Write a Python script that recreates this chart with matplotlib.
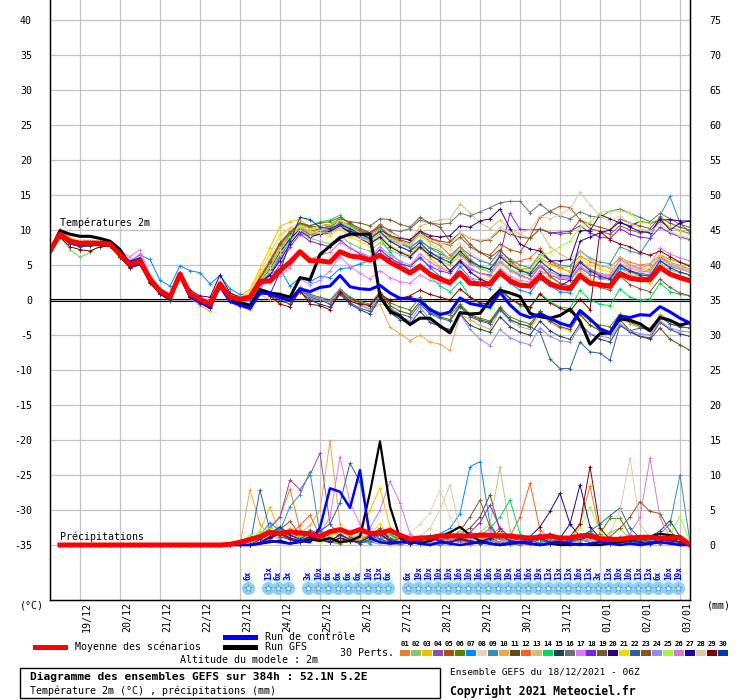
import matplotlib
matplotlib.use("Agg")
import matplotlib.pyplot as plt
from matplotlib.lines import Line2D
from matplotlib.patches import Rectangle

plt.rcParams['font.family'] = ['DejaVu Sans Mono', 'DejaVu Sans']

# time axis: one point every 6h from 18/12 06Z (384h)
hours = list(range(0, 385, 6))
day_hours = [18, 42, 66, 90, 114, 138, 162, 186, 210, 234, 258, 282, 306, 330, 354, 378]
day_labels = ['19/12', '20/12', '21/12', '22/12', '23/12', '24/12', '25/12', '26/12',
              '27/12', '28/12', '29/12', '30/12', '31/12', '01/01', '02/01', '03/01']

left_ticks = [40, 35, 30, 25, 20, 15, 10, 5, 0, -5, -10, -15, -20, -25, -30, -35]
right_ticks = [75, 70, 65, 60, 55, 50, 45, 40, 35, 30, 25, 20, 15, 10, 5, 0]

pert_names = ['01', '02', '03', '04', '05', '06', '07', '08', '09', '10',
              '11', '12', '13', '14', '15', '16', '17', '18', '19', '20',
              '21', '22', '23', '24', '25', '26', '27', '28', '29', '30']
pert_colors = ['#e8802f', '#88c86a', '#f0c000', '#8850a8', '#b05010', '#5a8000',
               '#0088ff', '#e8d4b0', '#3a8cb8', '#e8a850', '#604c18', '#f86020',
               '#d0c080', '#00d860', '#204058', '#687078', '#e078f8', '#8020f0',
               '#785830', '#300070', '#f0d800', '#2860a0', '#905020', '#9888e8',
               '#a0f840', '#d878d0', '#200098', '#e0c8a8', '#800000', '#0038b0']

# temperature 2m (C)
mean_t = [7.0, 9.4, 8.4, 8.1, 8.1, 8.1, 8.0, 6.5, 5.1, 5.6, 3.0, 1.3, 0.4, 3.7, 0.85, 0.1, -0.6, 2.3, 0.4, 0.1,
          0.4, 2.7, 2.7, 4.2, 5.4, 6.9, 5.6, 5.6, 5.4, 6.9, 6.3, 6.1, 5.7, 6.4, 5.4, 4.65, 3.85, 4.8, 3.7, 3.0,
          2.5, 3.9, 2.4, 2.3, 2.3, 3.9, 2.75, 2.1, 2.0, 3.4, 2.3, 1.8, 1.6, 3.5, 2.4, 2.2, 1.95, 3.8, 3.1, 2.9,
          2.9, 4.65, 3.7, 3.2, 2.75]
ctrl_t = [7.0, 9.5, 8.3, 7.9, 8.0, 8.0, 7.9, 6.6, 5.4, 5.9, 2.8, 1.1, 0.3, 3.6, 0.5, -0.3, -1.0, 2.0, -0.2, -0.7,
          -1.2, 1.0, 0.9, 0.4, -0.1, 1.6, 1.2, 1.8, 2.0, 3.5, 1.9, 1.6, 1.5, 2.1, 1.0, 0.25, 0.2, -0.1, -1.4, -2.1,
          -1.7, 0.3, -0.5, -0.8, -1.0, 1.1, -0.7, -2.0, -2.5, -2.0, -2.6, -3.3, -3.75, -1.5, -2.7, -4.1, -4.7, -2.3,
          -2.5, -2.1, -2.2, -0.95, -1.7, -2.6, -3.3]
gfs_t = [7.0, 9.9, 9.4, 9.1, 9.1, 8.8, 8.4, 7.2, 5.0, 5.6, 2.8, 1.1, 0.2, 3.5, 0.7, 0.0, -0.9, 2.2, 0.2, -0.4,
         -0.8, 1.5, 1.0, 0.8, 0.4, 3.2, 2.9, 6.5, 7.7, 8.9, 9.4, 9.4, 9.4, 0.5, -1.6, -2.3, -3.5, -2.6, -2.6, -3.7,
         -4.7, -1.8, -2.0, -1.9, 0.0, 1.4, 1.0, 0.5, -1.9, -2.4, -2.6, -2.2, -1.3, -3.0, -6.3, -4.8, -4.7, -2.7,
         -2.9, -3.4, -4.4, -2.5, -2.9, -3.6, -3.2]

t01 = [7.0, 9.6, 8.6, 8.3, 8.2, 8.4, 8.1, 6.8, 5.3, 5.9, 3.3, 1.5, 0.5, 3.9, 1.0, 0.2, -0.4, 2.6, 0.6, 0.3,
       0.6, 3.5, 5.8, 8.0, 9.6, 10.2, 9.8, 10.0, 10.5, 11.0, 10.4, 9.8, 9.2, 9.6, 8.4, 7.6, 7.0, 7.8, 6.8, 6.2,
       5.8, 6.9, 5.4, 4.8, 4.5, 6.2, 5.0, 4.4, 4.6, 6.0, 5.2, 4.6, 4.8, 6.3, 5.5, 4.9, 4.6, 6.0, 5.4, 5.0,
       5.2, 6.4, 5.8, 5.4, 5.0]
t02 = [7.0, 9.0, 7.2, 6.1, 6.8, 7.8, 7.9, 6.0, 4.6, 5.2, 2.6, 1.0, 0.2, 3.4, 0.6, 0.0, -0.8, 2.0, 0.2, -0.1,
       0.3, 2.2, 4.5, 6.8, 8.2, 9.6, 8.8, 8.4, 8.0, 9.2, 8.1, 7.4, 7.0, 8.2, 7.2, 6.5, 6.0, 7.4, 6.3, 5.5,
       5.0, 6.4, 5.1, 4.5, 4.0, 5.6, 4.4, 3.8, 3.5, 5.0, 4.0, 3.4, 3.2, 4.8, 3.8, 3.0, 2.8, 4.6, 3.6, 3.1,
       3.4, 5.2, 4.3, 3.9, 3.5]
t03 = [7.0, 9.5, 8.5, 8.2, 8.3, 8.2, 8.0, 6.6, 5.0, 5.5, 2.9, 1.2, 0.5, 3.6, 0.9, 0.3, -0.2, 2.4, 0.8, 0.6,
       1.5, 4.5, 7.5, 10.5, 11.2, 11.5, 10.4, 10.0, 9.8, 10.6, 9.5, 9.0, 8.2, 9.2, 7.8, 7.0, 6.4, 7.6, 6.0, 4.8,
       4.2, 5.8, 4.0, 3.2, 2.8, 4.6, 3.4, 2.6, 2.2, 4.2, 3.2, 2.4, 2.0, 4.4, 3.0, 2.2, 1.8, 4.0, 3.4, 2.8,
       2.5, 4.8, 3.8, 3.0, 2.6]
t04 = [7.0, 9.3, 8.2, 7.9, 8.0, 8.1, 7.9, 6.3, 4.9, 5.4, 2.8, 1.1, 0.2, 3.5, 0.7, -0.1, -0.8, 2.1, 0.1, -0.2,
       0.0, 2.0, 3.5, 6.0, 8.5, 10.2, 9.4, 9.6, 10.0, 10.8, 9.6, 9.0, 8.5, 9.5, 8.8, 8.2, 7.6, 8.4, 7.5, 7.0,
       5.8, 6.6, 5.4, 4.6, 4.0, 5.6, 4.4, 3.6, 3.0, 4.8, 3.6, 3.0, 2.8, 4.6, 3.6, 3.2, 3.0, 5.0, 4.2, 3.8,
       3.6, 5.6, 4.8, 4.4, 4.0]
t05 = [7.0, 9.7, 8.7, 8.4, 8.5, 8.4, 8.2, 6.9, 5.4, 5.8, 3.2, 1.5, 0.6, 3.8, 1.0, 0.3, -0.3, 2.5, 0.6, 0.2,
       0.5, 2.8, 4.8, 7.4, 9.0, 10.4, 9.8, 10.2, 10.6, 11.2, 10.8, 10.2, 9.6, 10.8, 9.8, 9.0, 8.6, 9.8, 8.8, 8.2,
       7.8, 9.0, 7.6, 6.8, 6.4, 8.0, 7.2, 6.8, 9.0, 11.8, 12.7, 13.4, 13.2, 11.5, 10.2, 9.8, 9.4, 10.6, 10.0, 9.6,
       9.8, 11.2, 10.4, 9.9, 9.5]
t06 = [7.0, 9.2, 8.0, 7.7, 7.8, 7.9, 7.8, 6.2, 4.7, 5.2, 2.6, 0.9, 0.1, 3.4, 0.5, -0.3, -1.0, 2.0, 0.0, -0.4,
       -0.6, 1.2, 1.0, 0.6, 0.2, 1.8, 0.8, 0.4, 0.0, 1.6, 0.4, -0.2, -0.6, 1.2, -0.4, -1.0, -1.4, 0.4, -1.2, -1.8,
       -2.2, -0.6, -2.0, -2.6, -3.0, -1.0, -2.4, -3.0, -3.4, -1.6, -2.8, -3.4, -3.6, -1.8, -3.0, -3.6, -3.8, -2.0,
       -3.2, -3.8, -4.0, -2.2, -3.4, -3.8, -4.0]
t07 = [7.0, 9.4, 8.3, 8.0, 8.0, 8.0, 7.9, 6.5, 5.6, 6.4, 5.8, 2.8, 2.0, 4.9, 4.2, 3.9, 2.3, 3.5, 1.6, 0.8,
       0.6, 2.4, 3.8, 4.4, 2.0, 3.2, 2.6, 3.4, 3.2, 4.5, 4.6, 5.2, 5.6, 7.2, 6.0, 5.2, 4.8, 6.2, 4.6, 3.4,
       2.6, 4.8, 3.2, 2.2, 1.6, 3.8, 2.4, 1.4, 1.0, 3.0, 2.0, 1.2, 1.0, 3.6, 2.6, 2.0, 2.4, 4.6, 4.0, 3.8,
       4.4, 6.1, 5.4, 4.9, 4.4]
t08 = [7.0, 9.8, 8.9, 8.6, 8.6, 8.5, 8.3, 7.0, 5.5, 6.0, 3.4, 1.7, 0.8, 4.0, 1.2, 0.5, -0.1, 2.7, 0.8, 0.5,
       0.9, 3.2, 6.0, 8.8, 10.4, 11.0, 10.2, 10.4, 10.0, 11.4, 10.6, 10.0, 9.4, 10.6, 9.6, 9.0, 8.6, 10.2, 9.2, 8.4,
       7.2, 8.2, 6.8, 5.8, 5.2, 6.6, 5.4, 4.6, 4.0, 5.6, 4.4, 3.8, 3.6, 5.4, 4.4, 3.8, 3.4, 5.2, 4.4, 4.0,
       3.8, 5.8, 5.0, 4.6, 4.4]
t09 = [7.0, 9.5, 8.4, 8.1, 8.2, 8.2, 8.1, 6.6, 5.2, 5.7, 3.1, 1.4, 0.4, 3.7, 0.9, 0.1, -0.5, 2.3, 0.4, 0.0,
       0.3, 2.6, 4.2, 6.4, 8.8, 10.6, 9.4, 9.8, 10.2, 11.0, 10.0, 9.4, 8.8, 9.6, 8.6, 8.0, 7.4, 8.6, 7.4, 6.6,
       6.0, 7.6, 6.4, 5.6, 5.2, 7.0, 5.8, 5.0, 4.6, 6.6, 5.6, 5.0, 4.8, 7.0, 6.0, 5.4, 5.2, 7.6, 7.0, 6.6,
       8.8, 12.0, 14.8, 11.0, 9.6]
t10 = [7.0, 10.2, 8.8, 8.2, 8.0, 8.0, 7.8, 6.4, 4.8, 5.4, 3.0, 1.0, 0.0, 3.3, 0.3, -0.8, -1.6, 2.0, -0.3, -1.0,
       -1.4, 0.8, 0.0, -0.4, -0.2, 1.0, 0.2, 0.0, -0.4, 1.2, 0.0, -0.6, -1.5, -0.6, -3.9, -4.8, -5.8, -5.0, -6.0, -6.3,
       -7.2, -2.0, -2.8, -3.6, -4.2, -1.4, -3.0, -3.8, -4.2, -2.0, -3.2, -4.0, -4.4, -2.2, -3.6, -4.2, -4.6, -2.4,
       -3.4, -4.0, -4.4, -2.0, -3.0, -3.4, -3.6]
t11 = [7.0, 9.3, 8.1, 7.8, 7.9, 8.0, 7.9, 6.3, 4.8, 5.3, 2.7, 1.0, 0.2, 3.5, 0.6, -0.2, -0.9, 2.1, 0.1, -0.3,
       -0.5, 1.4, 0.9, 0.4, 0.0, 1.6, 0.6, 0.2, -0.2, 1.4, 0.2, -0.4, -0.8, 1.0, -0.8, -1.6, -2.0, -0.2, -1.8, -2.4,
       -2.8, -0.8, -2.2, -2.8, -3.2, -1.2, -2.8, -3.4, -3.8, -1.6, -3.0, -3.8, -4.2, -2.0, -3.6, -4.4, -4.8, -2.8,
       -4.4, -5.2, -5.6, -4.0, -5.6, -6.4, -7.2]
t12 = [7.0, 9.6, 8.5, 8.2, 8.2, 8.3, 8.1, 6.7, 5.2, 5.7, 3.1, 1.4, 0.5, 3.8, 0.9, 0.2, -0.4, 2.4, 0.5, 0.2,
       0.5, 3.0, 5.2, 7.8, 9.4, 10.8, 10.2, 10.6, 10.8, 11.3, 10.6, 10.0, 9.4, 10.2, 9.0, 8.4, 8.0, 9.4, 8.4, 7.8,
       6.4, 7.6, 5.8, 4.8, 4.4, 6.4, 5.2, 5.6, 6.0, 7.4, 5.6, 4.6, 4.0, 5.6, 4.4, 3.6, 3.2, 5.0, 4.0, 3.4,
       3.0, 4.8, 3.8, 3.2, 2.8]
t13 = [7.0, 9.7, 8.6, 8.3, 8.3, 8.2, 8.0, 6.6, 5.1, 5.6, 3.0, 1.3, 0.4, 3.7, 0.8, 0.1, -0.5, 2.3, 0.4, 0.1,
       0.4, 2.8, 5.0, 7.6, 9.2, 10.4, 9.6, 10.0, 10.2, 10.8, 9.8, 9.2, 8.6, 9.6, 8.4, 8.0, 8.2, 10.6, 11.0, 11.5,
       11.6, 13.7, 12.5, 11.0, 10.2, 11.4, 10.2, 9.4, 8.8, 10.0, 7.6, 6.6, 5.8, 7.0, 5.8, 5.0, 4.6, 6.2, 5.0, 4.4,
       4.2, 6.0, 5.0, 4.4, 4.0]
t14 = [7.0, 9.4, 8.4, 8.1, 8.1, 8.1, 8.0, 6.4, 5.0, 5.5, 2.9, 1.2, 0.3, 3.6, 0.8, 0.0, -0.6, 2.2, 0.3, 0.0,
       0.4, 2.4, 4.4, 7.0, 9.4, 11.0, 10.6, 11.2, 11.4, 12.1, 10.8, 9.6, 8.4, 8.8, 6.8, 5.4, 4.2, 5.2, 3.4, 2.0,
       1.2, 2.6, 0.4, -0.6, -1.2, 1.8, 0.2, -0.8, -1.2, 1.0, -0.2, -1.0, -1.2, 1.4, 0.0, -0.6, -0.8, 1.6, 0.4, 0.0,
       0.2, 2.4, 1.2, 0.8, 0.6]
t15 = [7.0, 9.2, 8.0, 7.6, 7.7, 7.8, 7.7, 6.1, 4.6, 5.1, 2.5, 0.8, -0.1, 3.2, 0.4, -0.5, -1.2, 1.8, -0.2, -0.6,
       -1.0, 1.4, 0.6, 0.0, -0.6, 1.2, 0.0, -0.6, -1.0, 0.8, -0.6, -1.4, -2.0, 0.2, -1.8, -2.8, -3.4, -1.6, -3.2, -3.8,
       -4.2, -2.0, -3.6, -4.2, -4.6, -2.4, -3.8, -4.6, -5.0, -3.0, -4.4, -5.2, -5.6, -3.4, -4.8, -5.6, -6.0, -3.6,
       -4.6, -5.2, -5.4, -3.2, -4.2, -4.8, -5.2]
t16 = [7.0, 9.5, 8.5, 8.2, 8.2, 8.1, 7.9, 6.5, 5.1, 5.6, 3.0, 1.3, 0.3, 3.6, 0.8, 0.0, -0.7, 2.2, 0.3, 0.0,
       0.2, 2.2, 3.8, 6.2, 8.6, 10.0, 9.2, 9.6, 10.0, 10.8, 10.2, 9.8, 9.6, 10.6, 10.0, 9.8, 10.2, 11.4, 11.0, 10.8,
       11.0, 12.4, 12.0, 12.6, 13.2, 13.9, 14.1, 14.1, 12.5, 13.7, 12.6, 12.0, 11.6, 12.6, 12.0, 11.8, 12.7, 13.0,
       12.4, 11.8, 11.2, 12.4, 11.6, 10.8, 10.4]
t17 = [7.0, 9.4, 8.3, 8.0, 8.1, 8.2, 8.1, 6.9, 6.2, 7.2, 3.4, 1.2, 0.2, 3.9, 0.6, -0.1, -0.7, 2.4, 0.2, -0.2,
       -0.2, 1.6, 1.2, 0.8, 0.6, 3.0, 2.2, 2.8, 4.2, 6.2, 4.8, 3.8, 3.0, 4.2, 3.2, 2.6, 2.4, 3.6, 2.8, 2.4,
       2.2, 3.8, 3.2, 2.8, 2.6, 4.4, 3.4, 2.8, 2.6, 4.2, 3.6, 3.2, 3.0, 4.8, 4.0, 3.6, 3.4, 5.2, 4.6, 4.2,
       4.0, 6.0, 5.2, 4.6, 4.2]
t18 = [7.0, 9.3, 8.2, 7.9, 8.0, 8.0, 7.8, 6.4, 5.0, 5.5, 2.9, 1.2, 0.3, 3.6, 0.7, 0.0, -0.6, 2.2, 0.3, -0.1,
       0.1, 2.0, 3.0, 5.0, 7.6, 9.4, 8.4, 8.0, 7.6, 8.6, 7.4, 6.6, 6.0, 7.2, 6.0, 5.2, 4.8, 6.0, 4.8, 4.2,
       3.8, 5.4, 4.4, 3.8, 3.6, 6.4, 12.4, 10.1, 10.0, 10.1, 9.6, 9.7, 9.8, 10.6, 9.6, 9.0, 8.8, 10.2, 9.4, 9.0,
       8.8, 10.4, 9.6, 9.0, 8.6]
t19 = [7.0, 9.6, 8.5, 8.2, 8.3, 8.3, 8.1, 6.7, 5.2, 5.7, 3.1, 1.4, 0.5, 3.8, 0.9, 0.2, -0.4, 2.4, 0.5, 0.2,
       0.6, 3.2, 5.6, 8.2, 9.8, 11.0, 10.4, 10.6, 10.8, 11.6, 11.2, 11.0, 10.6, 11.6, 11.5, 10.8, 10.4, 11.8, 11.0, 10.4,
       8.4, 9.6, 8.0, 6.8, 6.0, 7.2, 5.6, 4.4, 3.6, 5.0, 3.4, 2.4, 2.0, 3.8, 2.6, 1.8, 1.4, 3.4, 2.2, 1.6,
       1.2, 3.0, 1.8, 1.0, 0.6]
t20 = [7.0, 9.5, 8.4, 8.1, 8.1, 8.2, 8.0, 6.6, 5.1, 5.7, 3.2, 1.6, 0.8, 3.7, 1.4, 0.6, 0.4, 3.6, 1.0, 0.4,
       0.3, 2.6, 4.4, 6.8, 8.8, 10.0, 9.2, 9.4, 9.6, 10.4, 9.8, 9.4, 9.0, 10.0, 9.2, 8.8, 8.6, 9.8, 9.2, 9.0,
       9.2, 10.6, 10.4, 11.3, 11.6, 13.0, 10.2, 8.0, 7.3, 7.0, 5.6, 5.6, 5.8, 9.9, 9.9, 12.2, 11.6, 11.0, 10.6, 11.2,
       11.0, 11.4, 11.5, 11.3, 11.3]
t21 = [7.0, 9.4, 8.4, 8.2, 8.2, 8.1, 8.0, 6.6, 5.1, 5.6, 3.0, 1.3, 0.4, 3.6, 0.9, 0.2, -0.4, 2.4, 0.6, 0.4,
       1.2, 4.0, 6.6, 9.4, 10.2, 10.6, 9.8, 9.6, 9.2, 10.2, 9.0, 8.4, 7.6, 8.8, 7.6, 7.0, 6.4, 7.8, 6.6, 5.8,
       5.2, 6.8, 5.6, 4.8, 4.4, 6.2, 5.2, 4.6, 4.2, 5.8, 5.0, 4.4, 4.2, 6.0, 5.0, 4.4, 4.0, 5.6, 4.8, 4.4,
       4.6, 6.4, 5.4, 4.8, 4.2]
t22 = [7.0, 9.2, 8.0, 7.7, 7.8, 7.9, 7.8, 6.2, 4.7, 5.2, 2.6, 0.9, 0.0, 3.3, 0.5, -0.3, -1.0, 1.9, 0.0, -0.4,
       -0.8, 1.2, 0.6, 0.2, -0.2, 1.4, 0.4, 0.0, -0.6, 1.0, -0.4, -1.2, -1.6, 0.4, -1.2, -2.0, -2.4, -0.6, -2.0, -2.6,
       -3.0, -1.0, -2.4, -3.0, -3.4, -1.4, -2.8, -3.4, -3.8, -4.6, -8.4, -9.8, -9.8, -6.0, -7.4, -7.6, -8.6, -3.6,
       -4.4, -4.0, -4.2, -2.4, -3.4, -3.8, -4.0]
t23 = [7.0, 9.6, 8.6, 8.3, 8.3, 8.3, 8.1, 6.8, 5.3, 5.8, 3.2, 1.5, 0.6, 3.8, 1.0, 0.3, -0.3, 2.5, 0.6, 0.3,
       0.6, 3.0, 5.4, 8.0, 9.6, 11.0, 10.6, 11.0, 11.2, 11.8, 11.0, 10.2, 9.6, 10.4, 9.2, 8.6, 8.2, 9.6, 8.8, 8.4,
       8.2, 9.6, 8.8, 8.4, 8.6, 10.0, 9.4, 9.0, 8.8, 10.2, 9.6, 9.4, 9.6, 11.4, 10.8, 10.4, 10.0, 11.6, 11.0, 10.6,
       10.2, 11.8, 11.0, 10.4, 10.0]
t24 = [7.0, 9.3, 8.2, 7.9, 8.0, 8.0, 7.9, 6.4, 4.9, 5.4, 2.8, 1.1, 0.2, 3.5, 0.6, -0.2, -0.9, 2.0, 0.1, -0.3,
       -0.6, 1.4, 0.8, 0.4, 0.0, 1.8, 0.6, 0.2, -0.2, 1.6, 0.0, -0.8, -1.2, 0.6, -1.4, -2.4, -3.0, -1.0, -2.8, -3.6,
       -4.6, -2.0, -4.2, -5.6, -6.5, -4.2, -5.4, -6.0, -6.4, -4.0, -5.2, -5.8, -6.0, -3.8, -4.8, -5.2, -5.4, -3.4,
       -4.4, -4.8, -5.0, -3.0, -4.0, -4.4, -4.6]
t25 = [7.0, 9.4, 8.3, 8.0, 8.1, 8.1, 7.9, 6.5, 5.0, 5.5, 2.9, 1.2, 0.3, 3.6, 0.8, 0.0, -0.6, 2.2, 0.4, 0.1,
       0.5, 2.8, 4.6, 7.2, 9.0, 10.6, 10.2, 10.6, 10.8, 11.4, 10.4, 9.6, 9.0, 10.0, 8.8, 8.2, 7.8, 9.2, 8.0, 7.2,
       5.8, 7.2, 5.6, 4.6, 4.0, 5.6, 4.4, 3.8, 4.2, 6.4, 6.8, 7.6, 8.4, 10.4, 11.1, 12.5, 12.7, 12.7, 12.5, 11.1,
       11.0, 11.6, 10.4, 9.8, 9.4]
t26 = [7.0, 9.5, 8.4, 8.1, 8.1, 8.1, 8.0, 6.6, 5.5, 6.6, 3.2, 1.3, 0.4, 3.7, 0.8, 0.0, -0.6, 2.3, 0.3, 0.0,
       0.2, 2.0, 2.6, 3.4, 4.6, 6.8, 5.8, 6.4, 6.8, 8.2, 7.4, 6.8, 6.2, 7.6, 6.4, 5.6, 5.0, 6.6, 5.4, 4.6,
       4.0, 5.8, 4.6, 3.8, 3.4, 5.4, 4.2, 3.4, 3.0, 5.0, 4.0, 3.4, 3.2, 5.4, 4.4, 3.8, 3.6, 5.8, 5.0, 4.6,
       5.0, 7.4, 6.6, 6.0, 5.6]
t27 = [7.0, 9.4, 8.3, 8.0, 8.0, 8.0, 7.9, 6.5, 5.0, 5.6, 3.0, 1.3, 0.4, 3.6, 0.8, 0.0, -0.7, 2.2, 0.3, 0.0,
       0.3, 2.4, 3.6, 5.6, 8.0, 9.8, 9.0, 9.4, 9.8, 10.6, 9.6, 8.8, 8.0, 9.0, 7.6, 6.8, 6.2, 7.6, 6.4, 5.6,
       4.2, 5.6, 4.0, 3.0, 2.4, 4.2, 3.0, 2.2, 1.8, 3.8, 2.6, 2.0, 2.8, 8.4, 9.0, 9.6, 10.0, 11.2, 10.4, 9.8,
       9.6, 11.6, 10.0, 11.0, 11.3]
t28 = [7.0, 9.6, 8.5, 8.2, 8.2, 8.2, 8.0, 6.6, 5.1, 5.6, 3.0, 1.3, 0.4, 3.7, 0.9, 0.1, -0.5, 2.3, 0.4, 0.1,
       0.4, 2.6, 4.2, 6.6, 8.4, 10.0, 9.2, 9.6, 9.6, 10.4, 9.2, 8.8, 8.4, 9.6, 8.6, 8.2, 8.0, 9.4, 8.6, 8.2,
       8.0, 9.6, 8.8, 8.6, 8.8, 10.4, 9.6, 9.6, 10.0, 12.0, 11.6, 12.2, 13.0, 15.4, 13.6, 12.0, 11.2, 12.0, 11.0, 10.2,
       9.8, 10.8, 9.8, 9.2, 8.8]
t29 = [7.0, 9.0, 7.6, 7.2, 7.0, 7.6, 7.7, 6.2, 4.6, 5.0, 2.4, 0.9, 0.1, 3.3, 0.4, -0.4, -1.1, 1.9, -0.1, -0.5,
       -0.8, 1.6, 0.6, -0.6, -1.0, 1.4, -0.6, -0.8, -1.4, 1.2, -0.2, -0.6, -0.8, 0.8, 0.0, 0.2, 0.6, 1.4, 0.8, 0.4,
       0.0, 1.6, 0.4, -0.4, -0.6, 1.4, 0.2, -0.6, -1.0, 0.8, -0.4, -1.2, -1.6, 0.2, -1.4, 9.8, 8.6, 8.0, 7.6, 6.8,
       6.4, 7.0, 6.2, 5.4, 4.8]
t30 = [7.0, 9.3, 8.2, 7.9, 7.9, 8.0, 7.8, 6.3, 4.8, 5.3, 2.7, 1.0, 0.1, 3.4, 0.5, -0.4, -1.1, 1.9, -0.2, -0.8,
       -1.2, 1.0, 0.8, 4.0, 8.4, 11.8, 11.5, 10.4, 10.2, 10.8, 10.2, 9.4, 8.8, 9.8, 8.4, 7.6, 7.0, 8.2, 6.8, 6.0,
       5.4, 7.0, 5.6, 4.8, 4.4, 6.2, 5.0, 4.2, 3.8, 5.6, 4.4, 3.6, 3.4, 5.4, 4.2, 3.4, 3.0, 5.0, 4.2, 3.6,
       3.4, 5.6, 4.6, 4.0, 3.6]

# precipitation (mm): first value at +6h, dry until 23/12
precip_dry = [0.0, 0.0, 0.0, 0.0, 0.0, 0.0, 0.0, 0.0, 0.0, 0.0, 0.0, 0.0, 0.0, 0.0, 0.0, 0.0, 0.0, 0.0, 0.0]
mean_p_start = [0.0, 0.0, 0.0, 0.0, 0.0, 0.0, 0.0, 0.0, 0.0, 0.0, 0.0, 0.0, 0.0, 0.0, 0.0, 0.0, 0.0, 0.1, 0.4]
mean_p = [0.8, 1.2, 1.8, 1.6, 1.9, 1.7, 1.6, 1.2, 1.9, 2.2, 1.7, 2.2, 1.65, 1.7, 2.1, 1.4, 0.85, 1.0, 1.05, 1.3,
          1.3, 1.3, 1.3, 1.4, 1.4, 1.3, 1.3, 1.1, 1.0, 1.1, 1.3, 1.0, 1.0, 1.3, 1.4, 0.9, 0.8, 0.8, 1.0, 1.1,
          1.1, 1.0, 1.0, 1.1, 0.0]
ctrl_p = [0.0, 0.2, 0.6, 0.4, 0.2, 0.6, 0.4, 2.5, 8.1, 7.6, 5.3, 10.7, 1.0, 0.4, 0.2, 0.4, 0.6, 0.2, 0.0, 0.4,
          0.2, 0.0, 0.2, 0.4, 0.2, 0.0, 0.2, 0.4, 0.2, 0.0, 0.2, 0.4, 0.2, 0.0, 0.2, 0.4, 0.2, 0.0, 0.2, 0.0,
          0.2, 0.4, 0.2, 0.0, 0.0]
gfs_p = [0.0, 0.2, 0.4, 0.6, 0.2, 0.4, 0.8, 0.6, 1.0, 0.4, 0.6, 1.2, 7.5, 14.8, 5.5, 1.0, 0.4, 0.2, 0.6, 1.2,
         1.8, 2.6, 1.4, 0.6, 0.2, 0.0, 0.2, 0.4, 0.2, 0.0, 0.2, 0.0, 0.0, 0.2, 0.0, 0.0, 0.2, 0.4, 0.6, 1.0,
         1.2, 1.6, 1.4, 1.2, 0.2]

p01 = [0.4, 1.2, 2.6, 4.0, 8.0, 2.2, 1.0, 0.6, 1.8, 1.2, 0.4, 0.8, 1.0, 0.6, 0.2, 0.0, 0.4, 1.2, 0.8, 0.2,
       0.6, 1.0, 0.4, 0.2, 0.8, 1.4, 0.6, 0.2, 0.0, 0.4, 0.8, 0.2, 0.6, 3.0, 8.4, 1.6, 0.4, 0.2, 0.6, 1.0,
       0.4, 0.2, 0.6, 0.4, 0.0]
p02 = [0.0, 0.6, 1.4, 2.0, 1.2, 0.8, 1.6, 2.4, 1.0, 0.6, 0.4, 1.2, 0.8, 0.4, 0.2, 1.0, 0.6, 0.2, 0.0, 0.8,
       1.6, 0.6, 0.2, 0.4, 0.8, 0.4, 0.0, 0.2, 0.6, 1.2, 0.4, 0.2, 0.0, 0.6, 1.0, 0.4, 1.8, 2.4, 0.8, 0.4,
       0.2, 0.6, 0.4, 0.8, 0.0]
p03 = [0.0, 2.0, 5.4, 1.6, 0.8, 1.2, 0.6, 1.0, 0.4, 1.4, 0.8, 1.6, 5.0, 8.1, 2.6, 0.6, 0.2, 0.8, 0.4, 0.2,
       1.0, 0.6, 0.2, 0.4, 1.2, 0.8, 0.4, 0.2, 0.6, 1.4, 0.8, 0.4, 0.2, 0.6, 1.6, 0.8, 0.4, 0.6, 1.2, 0.6,
       0.2, 0.4, 1.0, 0.4, 0.0]
p04 = [0.2, 1.0, 2.4, 4.0, 9.3, 7.9, 10.0, 13.1, 3.0, 1.2, 0.6, 1.4, 0.8, 0.4, 1.6, 0.8, 0.2, 0.6, 1.0, 0.4,
       0.8, 1.2, 0.6, 0.2, 0.4, 1.0, 0.6, 0.2, 0.8, 1.6, 0.6, 0.2, 0.4, 0.8, 1.2, 0.4, 0.2, 0.6, 1.0, 0.8,
       0.4, 0.2, 0.6, 0.4, 0.0]
p05 = [0.0, 0.8, 1.6, 2.2, 3.4, 1.4, 0.8, 2.0, 1.2, 0.6, 1.0, 0.4, 0.8, 1.4, 0.6, 0.2, 0.8, 1.2, 0.6, 0.4,
       1.6, 0.8, 0.4, 0.2, 1.0, 2.0, 0.8, 0.4, 0.6, 1.2, 0.6, 0.2, 0.4, 0.8, 1.0, 0.4, 0.6, 1.2, 0.8, 0.4,
       0.2, 0.8, 0.6, 0.4, 0.0]
p06 = [0.0, 0.4, 1.0, 1.8, 0.8, 0.4, 1.2, 0.8, 0.4, 0.2, 0.6, 1.0, 0.4, 0.2, 0.8, 0.4, 0.2, 0.6, 0.2, 0.0,
       0.4, 0.8, 0.2, 0.6, 1.0, 0.4, 0.2, 0.0, 0.4, 0.8, 0.2, 0.4, 0.6, 1.2, 0.8, 1.6, 3.8, 3.8, 1.4, 0.6,
       0.2, 0.4, 0.8, 0.4, 0.0]
p07 = [0.0, 1.4, 3.2, 2.0, 1.0, 0.6, 1.8, 1.2, 0.6, 0.4, 1.0, 0.8, 0.4, 1.4, 0.8, 0.2, 0.6, 1.2, 0.8, 1.6,
       2.4, 4.5, 11.2, 11.9, 3.0, 0.8, 0.4, 0.2, 0.6, 1.0, 0.4, 0.2, 0.6, 0.8, 0.4, 0.2, 0.6, 1.0, 0.4, 0.2,
       0.6, 0.4, 0.8, 0.2, 0.0]
p08 = [0.0, 0.6, 1.6, 2.4, 1.4, 0.8, 1.0, 2.2, 1.4, 0.6, 0.4, 1.2, 0.6, 0.2, 1.0, 0.8, 1.6, 3.0, 4.6, 7.9,
       4.0, 1.2, 0.6, 0.4, 0.8, 1.4, 0.6, 0.2, 0.4, 1.0, 0.6, 0.2, 0.4, 0.8, 1.2, 0.4, 0.2, 0.6, 1.0, 0.4,
       0.2, 0.6, 0.8, 0.4, 0.0]
p09 = [0.0, 0.8, 1.4, 2.0, 5.5, 7.2, 10.5, 1.5, 0.8, 0.4, 1.2, 0.6, 0.2, 0.8, 1.4, 0.6, 0.2, 0.4, 1.0, 0.6,
       0.2, 0.8, 0.4, 0.2, 0.6, 1.2, 0.4, 0.2, 0.6, 1.0, 0.4, 0.2, 0.6, 1.4, 0.8, 0.4, 0.2, 0.6, 1.0, 0.4,
       0.8, 1.6, 3.0, 10.0, 0.4]
p10 = [7.9, 3.0, 1.2, 0.8, 2.4, 1.6, 2.8, 5.0, 14.8, 3.0, 1.0, 0.6, 1.4, 0.8, 0.4, 0.2, 0.6, 1.0, 0.4, 0.2,
       0.8, 1.2, 0.6, 0.2, 0.4, 1.0, 0.6, 0.2, 0.4, 0.8, 0.2, 0.6, 1.2, 0.8, 0.4, 0.2, 0.6, 1.0, 0.4, 0.2,
       0.6, 0.4, 0.2, 0.6, 0.0]
p11 = [0.0, 0.4, 1.2, 2.0, 1.0, 0.6, 1.4, 0.8, 0.4, 1.6, 0.8, 0.4, 1.2, 2.2, 0.8, 0.4, 0.2, 0.8, 1.4, 0.6,
       1.0, 1.6, 2.4, 4.0, 7.2, 2.0, 0.8, 0.4, 0.6, 1.2, 0.4, 0.2, 0.8, 1.0, 0.4, 0.6, 1.2, 0.8, 0.4, 0.2,
       0.6, 1.0, 0.4, 0.2, 0.0]
p12 = [0.0, 0.8, 1.6, 2.2, 1.4, 2.8, 4.3, 1.2, 0.6, 0.4, 1.0, 0.6, 1.4, 0.8, 0.4, 0.2, 0.6, 1.0, 0.8, 0.4,
       1.2, 0.6, 0.2, 0.8, 1.4, 2.4, 1.2, 4.0, 8.8, 2.2, 0.8, 0.4, 0.6, 1.0, 0.4, 0.2, 0.6, 0.8, 0.4, 0.2,
       0.6, 0.4, 0.8, 0.2, 0.0]
p13 = [0.2, 1.0, 1.8, 1.2, 0.6, 1.4, 0.8, 0.4, 1.2, 0.6, 0.4, 1.0, 1.6, 0.8, 0.4, 0.2, 0.8, 1.2, 0.6, 1.4,
       2.0, 1.0, 0.6, 1.8, 3.0, 11.1, 2.0, 0.8, 0.4, 1.0, 0.6, 0.2, 0.4, 0.8, 1.2, 0.6, 0.2, 0.4, 1.0, 0.6,
       0.4, 0.8, 0.4, 0.2, 0.0]
p14 = [0.0, 0.6, 1.8, 2.6, 1.4, 0.8, 2.0, 1.2, 0.6, 0.4, 1.2, 0.8, 0.4, 1.0, 1.6, 0.6, 0.2, 0.8, 1.4, 0.6,
       0.4, 1.0, 0.6, 1.2, 2.4, 4.0, 6.4, 1.6, 0.6, 0.4, 1.0, 0.6, 0.2, 0.8, 2.0, 0.8, 0.4, 0.6, 1.2, 0.4,
       0.2, 0.6, 0.8, 0.4, 0.0]
p15 = [0.0, 0.4, 1.0, 1.6, 0.8, 0.4, 1.2, 0.6, 0.4, 1.0, 0.6, 0.2, 0.8, 1.4, 0.6, 0.2, 0.4, 0.8, 0.4, 0.2,
       0.6, 1.0, 0.4, 0.2, 0.6, 1.2, 0.6, 0.2, 0.4, 0.8, 0.2, 0.4, 0.6, 1.0, 0.4, 0.2, 0.6, 0.8, 0.4, 0.6,
       1.2, 2.0, 3.5, 1.2, 0.0]
p16 = [0.0, 0.6, 1.4, 2.4, 1.8, 1.0, 2.2, 1.4, 0.8, 0.4, 1.2, 0.8, 0.6, 1.6, 0.8, 0.4, 0.2, 0.6, 1.2, 0.8,
       0.4, 1.0, 0.6, 0.4, 0.8, 1.4, 0.6, 0.2, 0.4, 1.0, 0.4, 0.2, 0.6, 0.8, 1.2, 0.6, 0.4, 0.8, 0.4, 0.2,
       0.6, 1.0, 0.6, 0.2, 0.0]
p17 = [0.0, 0.8, 1.4, 1.0, 2.0, 1.2, 0.8, 1.6, 4.0, 12.6, 6.0, 3.0, 1.2, 0.6, 0.4, 1.0, 0.6, 0.2, 0.8, 1.2,
       0.6, 0.4, 1.0, 1.6, 2.2, 1.0, 0.4, 0.6, 1.2, 0.8, 0.4, 0.2, 0.6, 1.0, 0.4, 0.2, 0.6, 1.2, 0.8, 0.4,
       0.6, 1.0, 0.4, 0.2, 0.0]
p18 = [0.0, 0.6, 1.2, 2.0, 1.4, 0.8, 1.6, 1.0, 0.6, 1.2, 0.8, 0.4, 1.0, 1.8, 0.8, 0.4, 0.2, 0.6, 1.0, 1.4,
       0.8, 1.2, 1.8, 3.2, 5.7, 2.4, 1.0, 0.6, 0.4, 0.8, 0.4, 0.2, 0.6, 1.0, 0.6, 0.2, 0.4, 0.8, 1.2, 0.6,
       0.4, 0.8, 0.4, 0.2, 0.0]
p19 = [0.0, 0.6, 1.4, 2.2, 1.2, 0.6, 1.8, 1.0, 0.6, 0.4, 1.2, 0.8, 1.4, 2.4, 1.0, 0.6, 0.4, 0.8, 1.2, 0.6,
       1.0, 2.0, 4.0, 6.4, 2.6, 1.0, 0.6, 0.4, 0.8, 1.2, 0.6, 0.2, 0.4, 0.8, 1.0, 0.4, 0.2, 0.6, 1.0, 0.6,
       0.4, 0.8, 0.6, 0.2, 0.0]
p20 = [0.0, 0.4, 1.0, 1.8, 1.2, 0.6, 1.4, 0.8, 0.4, 1.0, 0.6, 0.4, 1.2, 2.0, 0.8, 0.4, 0.2, 0.6, 1.0, 0.6,
       0.4, 0.8, 0.6, 0.4, 1.0, 1.6, 0.8, 0.4, 1.2, 2.6, 4.8, 7.4, 3.0, 1.2, 0.6, 0.4, 0.8, 0.6, 0.4, 0.2,
       0.6, 1.0, 0.6, 0.2, 0.0]
p21 = [0.2, 1.0, 2.0, 1.4, 0.8, 1.6, 1.0, 0.6, 1.2, 2.4, 1.4, 0.8, 1.6, 3.0, 1.2, 0.6, 0.4, 1.0, 0.6, 0.4,
       0.8, 1.2, 0.6, 0.4, 1.0, 1.8, 0.8, 0.4, 0.6, 1.0, 0.4, 0.2, 0.6, 1.2, 0.8, 0.4, 0.6, 1.0, 0.4, 0.2,
       0.6, 0.8, 0.4, 0.2, 0.0]
p22 = [0.0, 7.9, 2.0, 1.2, 0.8, 1.6, 1.0, 2.0, 3.0, 6.0, 11.7, 9.0, 2.0, 0.8, 0.4, 1.0, 0.6, 0.2, 0.8, 1.2,
       0.6, 0.4, 0.8, 1.4, 0.6, 0.2, 0.4, 1.0, 0.6, 0.2, 0.4, 0.8, 0.6, 1.2, 2.0, 3.0, 4.2, 5.3, 2.4, 1.0,
       0.6, 0.4, 0.8, 0.4, 0.0]
p23 = [0.0, 0.6, 1.2, 2.0, 1.4, 0.8, 1.6, 1.0, 0.6, 1.4, 0.8, 0.4, 1.2, 1.8, 0.8, 0.4, 0.2, 0.8, 1.0, 0.6,
       0.4, 0.8, 0.6, 0.4, 1.0, 1.4, 0.6, 0.4, 0.6, 1.0, 0.4, 0.2, 0.6, 0.8, 0.4, 0.6, 1.2, 2.4, 4.0, 6.2,
       4.8, 4.5, 2.0, 0.6, 0.0]
p24 = [0.0, 0.4, 1.0, 1.6, 0.8, 0.4, 1.2, 0.6, 0.4, 1.0, 0.6, 0.4, 1.0, 1.4, 0.6, 0.2, 0.4, 0.8, 0.4, 0.2,
       0.6, 1.2, 0.6, 0.4, 0.8, 1.2, 0.4, 0.2, 0.6, 1.0, 0.4, 0.2, 0.6, 0.8, 0.4, 0.2, 0.4, 0.8, 0.4, 0.2,
       0.6, 0.8, 0.4, 0.2, 0.0]
p25 = [1.4, 1.8, 2.4, 1.6, 0.8, 1.4, 0.8, 0.4, 1.0, 2.2, 0.8, 0.4, 1.2, 1.6, 0.8, 0.4, 0.2, 0.6, 1.2, 0.6,
       0.4, 0.8, 0.6, 1.4, 0.8, 1.6, 0.6, 0.4, 0.8, 1.2, 0.4, 0.6, 1.0, 2.4, 5.5, 2.0, 0.8, 0.4, 0.6, 1.0,
       0.4, 0.8, 1.6, 4.1, 0.4]
p26 = [0.0, 0.6, 1.2, 1.8, 1.0, 0.6, 1.4, 0.8, 0.4, 1.2, 0.8, 1.4, 2.4, 5.0, 9.1, 6.0, 1.6, 0.6, 0.4, 1.0,
       0.6, 0.4, 0.8, 1.2, 0.6, 0.4, 0.8, 0.6, 0.4, 1.0, 0.6, 0.2, 0.4, 0.8, 1.2, 0.6, 0.4, 0.8, 1.6, 4.0,
       12.4, 4.0, 1.0, 0.4, 0.0]
p27 = [0.0, 0.4, 1.0, 1.6, 0.8, 0.4, 1.2, 0.8, 0.4, 1.0, 0.6, 0.4, 1.0, 1.6, 0.6, 0.4, 0.2, 0.8, 1.2, 0.6,
       0.4, 0.8, 0.6, 0.4, 1.0, 1.4, 0.6, 0.4, 0.8, 1.2, 1.6, 1.0, 3.0, 8.6, 2.6, 1.0, 0.6, 0.4, 0.8, 0.4,
       0.2, 0.6, 1.0, 0.4, 0.0]
p28 = [0.0, 0.6, 1.4, 2.0, 1.2, 0.8, 1.6, 1.0, 0.6, 1.2, 0.8, 0.4, 1.0, 1.8, 0.8, 0.4, 0.6, 1.2, 2.4, 5.0,
       8.6, 2.0, 0.8, 0.4, 0.8, 1.2, 0.6, 0.4, 0.6, 1.0, 0.4, 0.2, 0.6, 1.0, 0.6, 0.4, 1.6, 5.0, 12.4, 3.0,
       1.0, 0.6, 0.4, 0.2, 0.0]
p29 = [0.0, 0.4, 1.2, 1.8, 1.0, 0.6, 1.2, 0.8, 0.4, 1.0, 0.6, 0.4, 1.2, 1.6, 0.6, 0.4, 0.2, 0.6, 1.0, 0.6,
       0.4, 0.8, 0.6, 0.4, 1.0, 1.4, 0.6, 0.4, 0.6, 1.0, 0.4, 0.6, 1.2, 3.0, 11.2, 2.4, 0.8, 0.4, 0.6, 1.0,
       0.4, 0.6, 0.8, 0.4, 0.0]
p30 = [0.0, 0.8, 1.6, 2.6, 1.4, 0.8, 1.8, 1.2, 0.6, 1.4, 0.8, 0.4, 1.2, 2.0, 0.8, 0.4, 0.2, 0.8, 1.2, 0.6,
       0.4, 1.0, 0.6, 0.4, 0.8, 1.4, 0.6, 0.4, 0.6, 1.0, 0.4, 0.2, 0.6, 0.8, 1.2, 0.6, 0.4, 0.8, 0.6, 0.2,
       0.4, 0.8, 0.4, 0.2, 0.0]

# number of members giving snow at each step
snow = [0, 0, 0, 0, 0, 0, 0, 0, 0, 0, 0, 0, 0, 0, 0, 0, 0, 0, 0, 0,
        6, 0, 13, 6, 3, 0, 3, 10, 6, 6, 6, 6, 10, 13, 6, 0, 6, 19, 10, 10,
        10, 16, 10, 16, 16, 10, 19, 16, 16, 19, 13, 13, 13, 16, 13, 3, 13, 10, 10, 13,
        13, 6, 16, 19, 0]

pert_t = [t01, t02, t03, t04, t05, t06, t07, t08, t09, t10, t11, t12, t13, t14, t15,
          t16, t17, t18, t19, t20, t21, t22, t23, t24, t25, t26, t27, t28, t29, t30]
pert_p = [p01, p02, p03, p04, p05, p06, p07, p08, p09, p10, p11, p12, p13, p14, p15,
          p16, p17, p18, p19, p20, p21, p22, p23, p24, p25, p26, p27, p28, p29, p30]

W, H = 740, 700
PRECIP_BASE = -35  # 0 mm sits on the -35 line of the left axis


def line(ax, xs, ys, **kw):
    n = min(len(xs), len(ys))
    ax.plot(xs[:n], ys[:n], **kw)


def fx(px):
    return px / W


def fy(py):
    return 1 - py / H


fig = plt.figure(figsize=(7.4, 7.0), dpi=100)
ax = fig.add_axes([fx(50), 100 / H, 640 / W, 600 / H])
ymin, ymax = -300 / 7.0, 300 / 7.0
ax.set_xlim(0, 384)
ax.set_ylim(ymin, ymax)

# grid
for v in left_ticks:
    ax.axhline(v, color='#c4c4c4', lw=0.9, zorder=0)
for h in day_hours:
    ax.axvline(h, color='#c4c4c4', lw=0.9, zorder=0)
ax.axhline(0.2, color='black', lw=0.8, zorder=1)
ax.axhline(-0.12, color='black', lw=0.8, zorder=1)

# members
for col, tv, pv in zip(pert_colors, pert_t, pert_p):
    line(ax, hours, tv, color=col, lw=0.7, marker='+', ms=2.5, mew=0.6, zorder=2)
    pp = [v + PRECIP_BASE for v in precip_dry + pv]
    line(ax, hours[1:], pp, color=col, lw=0.7, marker='+', ms=2.5, mew=0.6, zorder=2)

# GFS run and control run
line(ax, hours, gfs_t, color='black', lw=2.2, zorder=4)
line(ax, hours[1:], [v + PRECIP_BASE for v in precip_dry + gfs_p], color='black', lw=1.6, zorder=4)
line(ax, hours, ctrl_t, color='#0000ff', lw=2.2, zorder=5)
line(ax, hours[1:], [v + PRECIP_BASE for v in precip_dry + ctrl_p], color='#0000ff', lw=1.8, zorder=5)

# ensemble mean
line(ax, hours, mean_t, color='#ff0000', lw=3.6, zorder=6)
line(ax, hours[1:], [v + PRECIP_BASE for v in mean_p_start + mean_p], color='#ff0000', lw=3.6, zorder=6)

ax.text(6, 11.1, 'Températures 2m', fontsize=7.2, va='center', ha='left', zorder=7)
ax.text(6, -33.8, 'Précipitations', fontsize=7.2, va='center', ha='left', zorder=7)

# snow icons row
icon_y = -41.2
run_start = None
for i, n in enumerate(snow + [0]):
    if n and run_start is None:
        run_start = i
    if not n and run_start is not None:
        h0 = hours[run_start] - 1 - 3
        h1 = hours[i - 1] - 1 + 3
        ax.add_patch(Rectangle((h0, -40.3), h1 - h0, 0.75, facecolor='#ccf8ff',
                               edgecolor='none', zorder=3, clip_on=False))
        run_start = None
for i, n in enumerate(snow):
    if not n:
        continue
    hx = hours[i] - 1
    ax.scatter([hx], [icon_y], s=90, c='#92d0f2', marker='o', linewidths=0, zorder=4, clip_on=False)
    ax.scatter([hx], [icon_y], s=40, c='#3f96dc', marker='*', linewidths=0, zorder=5, clip_on=False)
    ax.scatter([hx], [icon_y], s=5, c='white', marker='o', linewidths=0, zorder=6, clip_on=False)
    ax.text(hx, -40.0, f'{n}x', rotation=90, ha='center', va='bottom', fontsize=5.6,
            fontweight='bold', color='#0000ee', zorder=6)

# axes frame and ticks
ax.spines['top'].set_visible(False)
for s in ['left', 'right', 'bottom']:
    ax.spines[s].set_color('black')
    ax.spines[s].set_linewidth(1.0)
ax.set_xticks([])
ax.set_yticks(left_ticks)
ax.set_yticklabels([str(v) for v in left_ticks])
ax.tick_params(axis='y', length=0, pad=13, labelsize=7.2)

ax2 = ax.twinx()
ax2.set_ylim(ymin, ymax)
ax2.set_yticks(left_ticks)
ax2.set_yticklabels([str(v) for v in right_ticks])
ax2.tick_params(axis='y', length=0, pad=14, labelsize=7.2)
ax2.spines['top'].set_visible(False)

for h, lab in zip(day_hours, day_labels):
    ax.text(h + 4.2, ymin - 0.3, lab, rotation=90, ha='center', va='top',
            fontsize=7.2, clip_on=False)

fig.text(fx(20), fy(606), '(°C)', fontsize=7.2, ha='left', va='center')
fig.text(fx(707), fy(606), '(mm)', fontsize=7.2, ha='left', va='center')

# legend
fig.add_artist(Line2D([fx(35), fx(65)], [fy(647), fy(647)], color='#ff0000', lw=3.6))
fig.text(fx(75), fy(647), 'Moyenne des scénarios', fontsize=7.2, ha='left', va='center')
fig.add_artist(Line2D([fx(225), fx(255)], [fy(637), fy(637)], color='#0000ff', lw=3.6))
fig.text(fx(265), fy(637), 'Run de contrôle', fontsize=7.2, ha='left', va='center')
fig.add_artist(Line2D([fx(225), fx(255)], [fy(647), fy(647)], color='black', lw=3.6))
fig.text(fx(265), fy(647), 'Run GFS', fontsize=7.2, ha='left', va='center')
fig.text(fx(340), fy(653), '30 Perts.', fontsize=7.2, ha='left', va='center')
fig.text(fx(180), fy(660), 'Altitude du modele : 2m', fontsize=7.2, ha='left', va='center')

for k, (name, col) in enumerate(zip(pert_names, pert_colors)):
    x0 = 400 + k * 10.97
    fig.add_artist(Rectangle((fx(x0), fy(656)), 10 / W, 6 / H, transform=fig.transFigure,
                             facecolor=col, edgecolor='none'))
    fig.text(fx(x0 + 5), fy(643.5), name, fontsize=5.2, fontweight='bold',
             ha='center', va='center')

fig.add_artist(Rectangle((fx(20), fy(698)), 420 / W, 30 / H, transform=fig.transFigure,
                         facecolor='none', edgecolor='black', lw=1.0))
fig.text(fx(30), fy(677), 'Diagramme des ensembles GEFS sur 384h : 52.1N 5.2E',
         fontsize=8.1, fontweight='bold', ha='left', va='center')
fig.text(fx(30), fy(691), 'Température 2m (°C) , précipitations (mm)',
         fontsize=7.2, ha='left', va='center')
fig.text(fx(450), fy(672), 'Ensemble GEFS du 18/12/2021 - 06Z', fontsize=6.8, ha='left', va='center')
fig.text(fx(450), fy(691), 'Copyright 2021 Meteociel.fr', fontsize=8.3, fontweight='bold',
         ha='left', va='center')

fig.savefig('out.png', dpi=100, facecolor='white')
